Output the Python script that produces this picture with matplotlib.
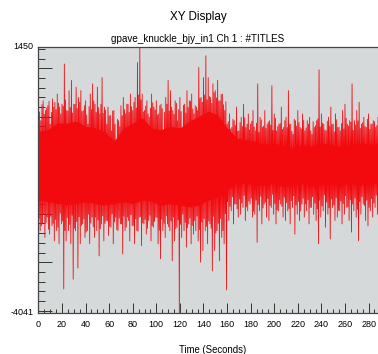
import numpy as np
import matplotlib
matplotlib.use("Agg")
import matplotlib.pyplot as plt
from matplotlib.ticker import MultipleLocator

# Tall upper peaks (even seconds) and deep lower peaks (odd seconds)
hi_vals = [680, -80, 330, 130, 230, -150, 370, 300, 470, 200,
           260, 1090, 130, 540, 750, 260, 610, 400, 540, 130,
           330, -150, 470, 680, 260, 610, 60, 810, 200, -150,
           20, -290, 130, -490, -80, 230, 400, 60, 260, 470,
           130, 400, 1120, 1450, 470, 130, 330, -10, 470, 200,
           330, 60, 260, -360, 400, 750, 540, 130, 330, -80,
           400, -360, 260, 540, 330, 470, 60, 200, 1020, 400,
           810, 1260, 810, 400, 680, 540, 750, 330, 470, 130,
           -150, 60, -220, -80, 200, -290, -10, 260, -220, 60,
           -150, 130, -290, 680, -10, -220, 130, -150, -80, 640,
           60, -290, -150, 200, -220, -10, 540, -150, -360, -80,
           130, -220, 60, -290, -80, -10, -360, -220, -80, 970,
           60, -150, -290, -10, 200, -150, 60, -220, -290, 130,
           260, -150, -80, 680, -80, 130, 300, -150, -10, -220,
           60, -150, -80, -220, -10]
lo_vals = [-2350, -2210, -2490, -2070, -2420, -2250, -2560, -2350, -2620, -2210,
           -3550, -2560, -2350, -2620, -3350, -2350, -3120, -2620, -2210, -2490,
           -2350, -2620, -2070, -2490, -2350, -2870, -2210, -2560, -2140, -2450,
           -2280, -2620, -2070, -2350, -2210, -2830, -2350, -2070, -2560, -2250,
           -2620, -2350, -2070, -2660, -2210, -2420, -2140, -2560, -2280, -2070,
           -2620, -2930, -2350, -2490, -2210, -2350, -2970, -2560, -2280, -4041,
           -2490, -2350, -2690, -2210, -2620, -2420, -2350, -2560, -3000, -2760,
           -2350, -2620, -2210, -3180, -2760, -2350, -2970, -2490, -2620, -3570,
           -2140, -1940, -2210, -1800, -2070, -2010, -1870, -2140, -1940, -1800,
           -2070, -2010, -2590, -1940, -2210, -1800, -2070, -2140, -1870, -2010,
           -2210, -1940, -1800, -2070, -2140, -1940, -2210, -1870, -2420, -2010,
           -2140, -1800, -2070, -1940, -2210, -1870, -2010, -2140, -2620, -2070,
           -1940, -2280, -2010, -2520, -1870, -2140, -2070, -1940, -2210, -2010,
           -1870, -2140, -2380, -1940, -2070, -2560, -2010, -1800, -2140, -2250,
           -1940, -2070, -1870, -2010]

# Moderate upper peaks (odd seconds) and lower peaks (even seconds) near the band edge
hi2_vals = [100, 250, 50, 180, 320, 90, 200, 150, 280, 60,
            220, 350, 120, 190, 80, 260, 170, 300, 110, 230,
            40, 210, 150, 330, 90, 190, 260, 70, 140, 200,
            30, 120, -150, -50, -200, 20, 150, 260, 90, 210,
            300, 180, 450, 350, 100, 220, 60, 180, 290, 140,
            40, 230, 170, 90, 260, 120, 200, 50, 280, 150,
            110, 240, 80, 190, 320, 160, 230, 130, 380, 300,
            450, 350, 420, 280, 500, 390, 330, 460, 250, 310,
            -100, -250, -50, -180, -300, -120, -200, -20, -150, -270,
            -90, -210, -130, -320, -60, -190, -240, -110, -170, -280,
            -30, -200, -140, -260, -80, -220, -160, -300, -50, -190,
            -120, -250, -70, -230, -150, -290, -100, -180, -40, -210,
            -130, -270, -90, -200, -160, -310, -60, -220, -140, -250,
            -30, -190, -110, -280, -170, -80, -240, -120, -200, -50,
            -260, -150, -100, -180]
lo2_vals = [-2100, -2250, -2000, -2180, -2320, -2050, -2200, -2120, -2280, -1990,
            -2150, -2350, -2080, -2220, -2030, -2300, -2160, -2060, -2240, -2110,
            -2380, -2010, -2190, -2270, -2070, -2130, -2310, -2040, -2200, -2150,
            -2260, -2000, -2170, -2330, -2090, -2210, -2050, -2280, -2140, -2020,
            -2240, -2100, -2360, -2060, -2190, -2120, -2300, -2030, -2250, -2160,
            -2080, -2340, -2110, -2200, -2040, -2270, -2150, -2070, -2310, -2130,
            -2220, -2010, -2180, -2290, -2090, -2240, -2140, -2050, -2330, -2170,
            -2100, -2260, -2150, -2300, -2050, -2400, -2200, -2100, -2350, -2000,
            -1750, -1850, -1650, -1800, -1900, -1700, -1780, -1620, -1860, -1740,
            -1680, -1950, -1720, -1810, -1640, -1880, -1760, -1690, -1830, -1600,
            -1790, -1920, -1710, -1850, -1660, -1770, -1890, -1730, -1630, -1820,
            -1750, -1940, -1680, -1800, -1710, -1870, -1650, -1780, -1900, -1720,
            -1840, -1610, -1760, -1880, -1700, -1820, -1670, -1930, -1740, -1790,
            -1630, -1860, -1710, -1800, -1680, -1910, -1750, -1650, -1830, -1720,
            -1870, -1690, -1780, -1620, -1800]

# Fully solid middle of the band, read every 8 seconds
core_t = list(range(0, 289, 8))
core_hi = [-300, -265, -130, -130, -90, -195, -230, -300, -505, -230,
           -130, -20, -230, -265, -195, -230, -90, 10, 115, 45,
           -230, -435, -470, -505, -575, -540, -610, -645, -575, -610,
           -540, -575, -610, -575, -540, -575, -540]
core_lo = [-1720, -1750, -1790, -1820, -1790, -1750, -1790, -1820, -1790, -1750,
           -1790, -1720, -1750, -1820, -1790, -1820, -1860, -1820, -1720, -1650,
           -1510, -1375, -1375, -1410, -1410, -1375, -1445, -1410, -1375, -1445,
           -1410, -1375, -1410, -1375, -1410, -1375, -1375]

y_min, y_max = -4041, 1450
x_max = 288
x_tick_labels = [str(v) for v in range(0, 281, 20)]

# upper peaks at whole seconds, lower peaks half a second later
upper = np.empty(len(hi_vals) + len(hi2_vals))
upper[0::2], upper[1::2] = hi_vals, hi2_vals
lower = np.empty(len(lo2_vals) + len(lo_vals))
lower[0::2], lower[1::2] = lo2_vals, lo_vals
up_t = np.arange(len(upper))
lo_t = np.arange(len(lower)) + 0.5
n = len(upper) + len(lower)
t = np.empty(n)
v = np.empty(n)
t[0::2], v[0::2] = up_t, upper
t[1::2], v[1::2] = lo_t, lower

RED = "#f20a0f"

fig = plt.figure(figsize=(3.78, 3.54), dpi=100)
fig.patch.set_facecolor("white")
ax = fig.add_axes([0.1016, 0.1167, 0.8984, 0.7519])
ax.set_facecolor("#d5d9da")
ax.fill_between(core_t, core_lo, core_hi, color=RED, lw=0)
ax.plot(t, v, color=RED, lw=0.6)
ax.set_xlim(0, x_max)
ax.set_ylim(y_min, y_max)

for s in ["left", "top", "bottom"]:
    ax.spines[s].set_color("#444444")
    ax.spines[s].set_linewidth(0.9)
ax.spines["right"].set_visible(False)

ax.xaxis.set_minor_locator(MultipleLocator(5))
ax.set_xticks(range(0, 281, 20))
ax.set_xticklabels(x_tick_labels, fontsize=6.5, family="Liberation Sans")
ax.tick_params(axis="x", which="major", direction="in", length=7, width=0.7,
               color="#333333", pad=5)
ax.tick_params(axis="x", which="minor", direction="in", length=3, width=0.7,
               color="#333333")

ax.yaxis.set_major_locator(MultipleLocator(1000))
ax.yaxis.set_minor_locator(MultipleLocator(200))
ax.tick_params(axis="y", which="major", direction="in", length=10, width=0.7,
               color="#333333", labelleft=False)
ax.tick_params(axis="y", which="minor", direction="in", length=5, width=0.7,
               color="#333333")
ytr = ax.get_yaxis_transform()
for val in (y_max, y_min):
    ax.text(-0.015, val, str(val), transform=ytr, ha="right", va="center",
            fontsize=6.5, family="Liberation Sans")

fig.text(0.524, 0.952, "XY Display", ha="center", va="center",
         fontsize=8.4, family="Liberation Sans")
fig.text(0.524, 0.889, "gpave_knuckle_bjy_in1 Ch 1 : #TITLES", ha="center",
         va="center", fontsize=7.1, family="Liberation Sans")
fig.text(0.563, 0.026, "Time (Seconds)", ha="center", va="top",
         fontsize=6.9, family="Liberation Sans")

fig.savefig("out.png", dpi=100)
